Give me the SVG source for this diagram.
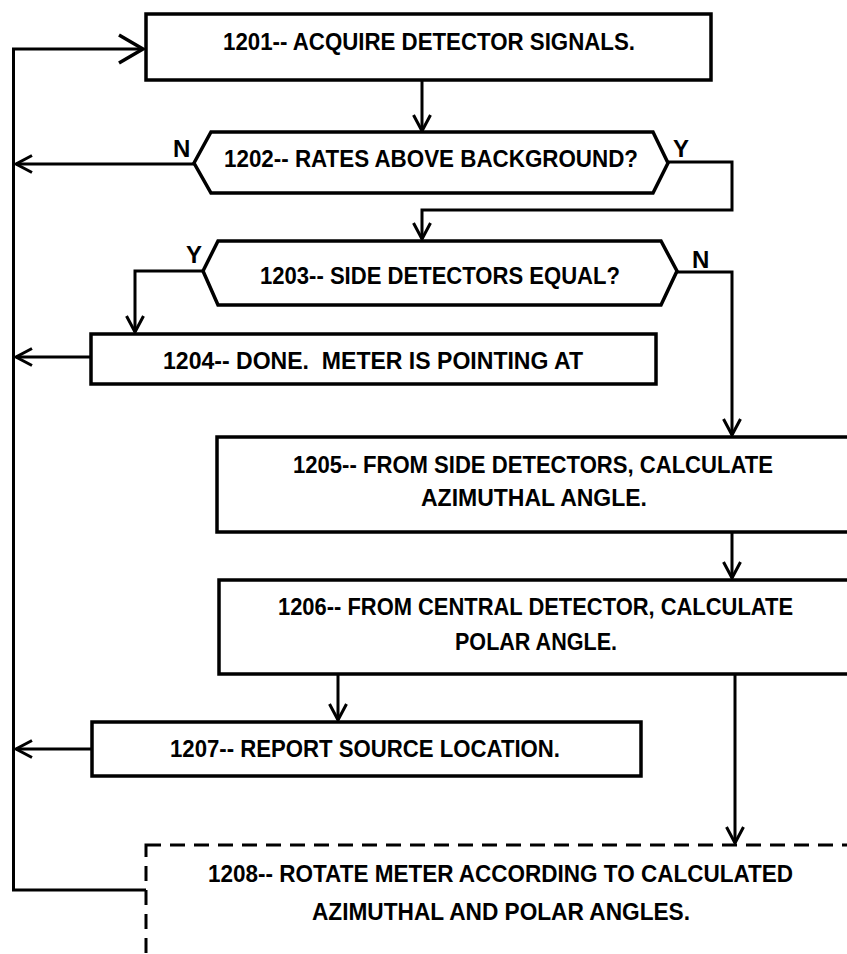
<svg xmlns="http://www.w3.org/2000/svg" width="847" height="954" viewBox="0 0 847 954">
<defs>
<style>
.box{fill:#fff;stroke:#000;stroke-width:3.5}
.dash{fill:#fff;stroke:#000;stroke-width:3;stroke-dasharray:15 9}
.t{font-family:"Liberation Sans",Arial,sans-serif;font-weight:bold;font-size:24px;fill:#000;white-space:pre}
.c{fill:none;stroke:#000;stroke-width:3}
</style>
<marker id="ah" markerUnits="userSpaceOnUse" markerWidth="24" markerHeight="24" viewBox="-20 -12 24 24" refX="0" refY="0" orient="auto">
<path d="M-16,-8.5 L0,0 L-16,8.5" fill="none" stroke="#000" stroke-width="3"/>
</marker>
<marker id="ahb" markerUnits="userSpaceOnUse" markerWidth="36" markerHeight="36" viewBox="-28 -18 36 36" refX="0" refY="0" orient="auto">
<path d="M-24,-14 L0,0 L-24,14" fill="none" stroke="#000" stroke-width="3.5"/>
</marker>
</defs>
<rect width="847" height="954" fill="#fff"/>

<g id="connectors">
<path class="c" d="M146,890 H13.5 V49 H143" marker-end="url(#ahb)"/>
<path class="c" d="M422,81 V131" marker-end="url(#ah)"/>
<path class="c" d="M194,164 H16" marker-end="url(#ah)"/>
<path class="c" d="M668,162 H732 V210 H422 V239" marker-end="url(#ah)"/>
<path class="c" d="M203,271 H135 V332" marker-end="url(#ah)"/>
<path class="c" d="M677,272 H732 V435" marker-end="url(#ah)"/>
<path class="c" d="M91,357 H16" marker-end="url(#ah)"/>
<path class="c" d="M732,533 V578" marker-end="url(#ah)"/>
<path class="c" d="M338,675 V720" marker-end="url(#ah)"/>
<path class="c" d="M735,675 V843" marker-end="url(#ah)"/>
<path class="c" d="M92,749 H16" marker-end="url(#ah)"/>
<text class="t" x="173" y="157">N</text>
<text class="t" x="673" y="157">Y</text>
<text class="t" x="186" y="263">Y</text>
<text class="t" x="692" y="268">N</text>
</g>

<g id="n1201">
<rect class="box" x="146" y="14" width="565" height="66"/>
<text class="t" x="223" y="50" textLength="412" lengthAdjust="spacingAndGlyphs">1201-- ACQUIRE DETECTOR SIGNALS.</text>
</g>

<g id="n1202">
<polygon class="box" points="194,163 211,132 653,132 668,163 653,193 211,193"/>
<text class="t" x="224" y="167" textLength="414" lengthAdjust="spacingAndGlyphs">1202-- RATES ABOVE BACKGROUND?</text>
</g>

<g id="n1203">
<polygon class="box" points="203,271 218,241 661,241 677,271 661,305 218,305"/>
<text class="t" x="260" y="284" textLength="360" lengthAdjust="spacingAndGlyphs">1203-- SIDE DETECTORS EQUAL?</text>
</g>

<g id="n1204">
<rect class="box" x="91" y="334" width="565" height="50"/>
<text class="t" x="163" y="369" textLength="420" lengthAdjust="spacingAndGlyphs">1204-- DONE.  METER IS POINTING AT</text>
</g>

<g id="n1205">
<rect class="box" x="217" y="437" width="650" height="95"/>
<text class="t" x="293" y="473" textLength="480" lengthAdjust="spacingAndGlyphs">1205-- FROM SIDE DETECTORS, CALCULATE</text>
<text class="t" x="421" y="506" textLength="226" lengthAdjust="spacingAndGlyphs">AZIMUTHAL ANGLE.</text>
</g>

<g id="n1206">
<rect class="box" x="219" y="580" width="650" height="94"/>
<text class="t" x="278" y="615" textLength="515" lengthAdjust="spacingAndGlyphs">1206-- FROM CENTRAL DETECTOR, CALCULATE</text>
<text class="t" x="455" y="650" textLength="162" lengthAdjust="spacingAndGlyphs">POLAR ANGLE.</text>
</g>

<g id="n1207">
<rect class="box" x="92" y="722" width="549" height="54"/>
<text class="t" x="170" y="757" textLength="390" lengthAdjust="spacingAndGlyphs">1207-- REPORT SOURCE LOCATION.</text>
</g>

<g id="n1208">
<rect class="dash" x="146" y="845" width="730" height="140"/>
<text class="t" x="208" y="882" textLength="585" lengthAdjust="spacingAndGlyphs">1208-- ROTATE METER ACCORDING TO CALCULATED</text>
<text class="t" x="312" y="920" textLength="378" lengthAdjust="spacingAndGlyphs">AZIMUTHAL AND POLAR ANGLES.</text>
</g>
</svg>
